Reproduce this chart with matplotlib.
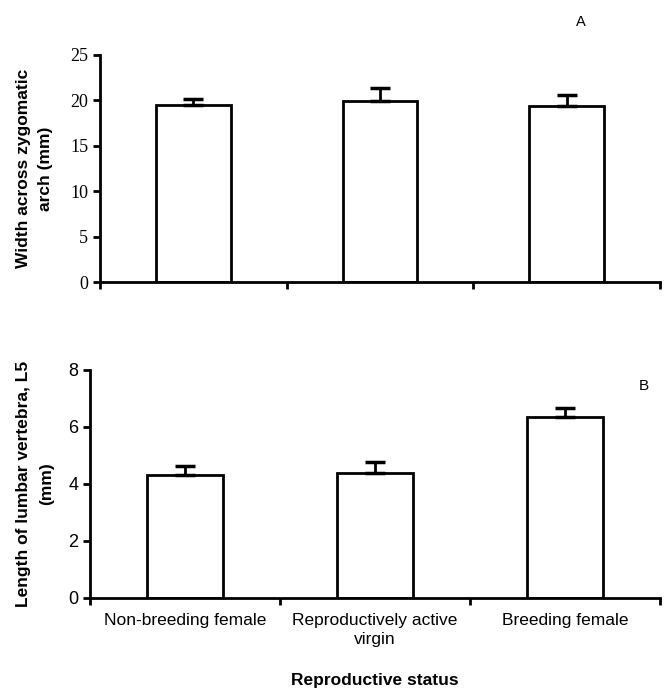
import matplotlib.pyplot as plt

groups = ['Non-breeding female', 'Reproductively active\nvirgin', 'Breeding female']
zyg_mean = [19.5, 19.9, 19.4]
zyg_se = [0.65, 1.45, 1.2]
l5_mean = [4.31, 4.39, 6.36]
l5_se = [0.32, 0.37, 0.32]

fig = plt.figure(figsize=(6.69, 6.90), dpi=100)
ax1 = fig.add_axes([0.1495, 0.5913, 0.837, 0.329])
ax2 = fig.add_axes([0.1345, 0.1338, 0.852, 0.330])

x = range(len(groups))


def style_axis(ax, ymax, ystep, tickfont):
    ax.set_xlim(-0.5, len(groups) - 0.5)
    ax.set_ylim(0, ymax)
    ax.set_yticks(range(0, ymax + 1, ystep))
    ax.set_xticks([i - 0.5 for i in range(len(groups) + 1)])
    ax.set_xticklabels([])
    for s in ['top', 'right']:
        ax.spines[s].set_visible(False)
    for s in ['left', 'bottom']:
        ax.spines[s].set_linewidth(2)
    ax.tick_params(axis='both', direction='out', width=2, length=5)
    for lab in ax.get_yticklabels():
        lab.set_family(tickfont)
        lab.set_fontsize(13)


# panel A
ax1.bar(x, zyg_mean, width=0.4, color='white', edgecolor='black', linewidth=2,
        yerr=[[0] * 3, zyg_se], error_kw=dict(ecolor='black', elinewidth=2, capsize=7, capthick=2.5))
style_axis(ax1, 25, 5, 'Liberation Serif')
ax1.set_ylabel('Width across zygomatic\narch (mm)', fontsize=12.5, fontweight='bold',
               family='Liberation Sans', labelpad=12, linespacing=1.65)
fig.text(0.868, 0.968, 'A', fontsize=10.5, family='Liberation Sans', ha='center', va='center')

# panel B
ax2.bar(x, l5_mean, width=0.4, color='white', edgecolor='black', linewidth=2,
        yerr=[[0] * 3, l5_se], error_kw=dict(ecolor='black', elinewidth=2, capsize=7, capthick=2.5))
style_axis(ax2, 8, 2, 'Liberation Sans')
ax2.set_ylabel('Length of lumbar vertebra, L5\n(mm)', fontsize=12.5, fontweight='bold',
               family='Liberation Sans', labelpad=10, linespacing=1.65)
for i, g in enumerate(groups):
    ax2.text(i, -0.55, g, ha='center', va='top', fontsize=12.5, family='Liberation Sans',
             linespacing=1.3)
ax2.text(1, -2.65, 'Reproductive status', ha='center', va='top', fontsize=12.5,
         fontweight='bold', family='Liberation Sans')
fig.text(0.962, 0.441, 'B', fontsize=11, family='Liberation Sans', ha='center', va='center')

fig.savefig('out.png', dpi=100)
